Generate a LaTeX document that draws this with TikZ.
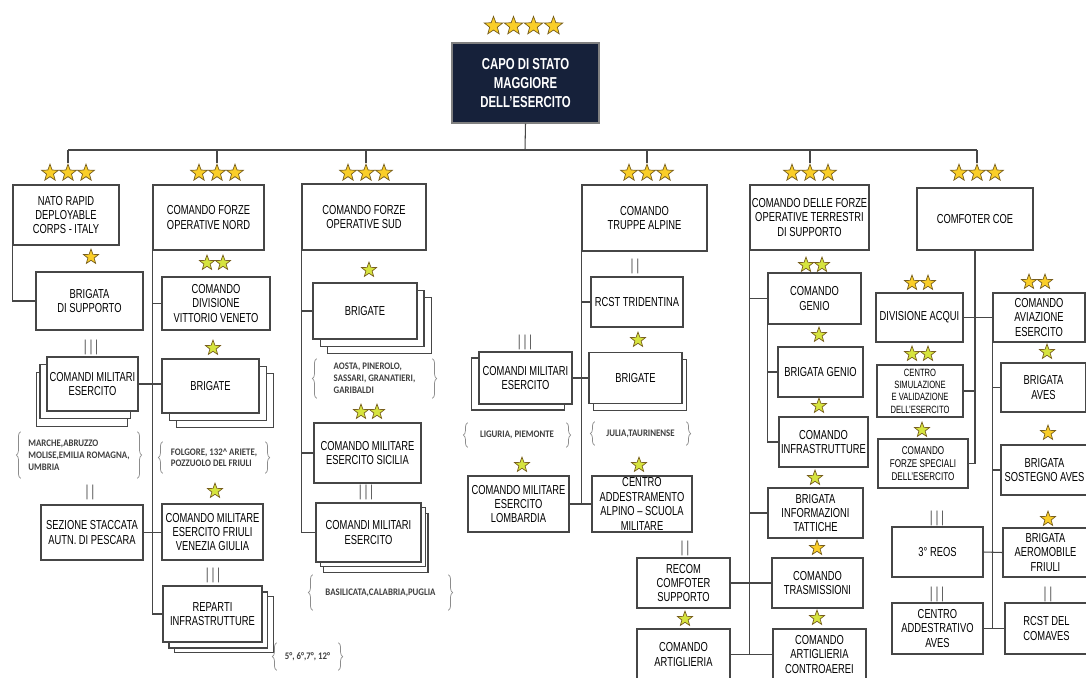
\documentclass[tikz,border=0pt]{standalone}
\usepackage{fontspec}
\setmainfont{Liberation Sans}[FakeStretch=0.72]
\newfontfamily\notefont{Carlito}[FakeStretch=0.88]
\usetikzlibrary{shapes.geometric}
\usetikzlibrary{shadows}
\usetikzlibrary{decorations.pathreplacing}
\definecolor{capoblue}{RGB}{22,33,58}
\definecolor{stargold}{RGB}{250,206,40}
\definecolor{starlime}{RGB}{214,228,62}
\definecolor{starline}{RGB}{120,95,30}
\definecolor{linegray}{RGB}{70,70,70}

\begin{document}
\begin{tikzpicture}[x=0.02cm,y=-0.02cm]
\tikzstyle{unit}=[rectangle,draw=linegray,line width=0.6pt,fill=white,align=center,inner sep=1pt,font=\fontsize{7.4}{8.2}\selectfont]
\tikzstyle{chief}=[unit,fill=capoblue,draw=black!50,text=white,font=\bfseries\fontsize{9}{11}\selectfont]
\tikzstyle{gstar}=[star,star points=5,star point ratio=2.4,minimum size=10pt,inner sep=0pt,draw=starline,line width=0.4pt,fill=stargold]
\tikzstyle{lstar}=[gstar,minimum size=9pt,fill=starlime]
\tikzstyle{sstar}=[gstar,minimum size=9pt]
\tikzstyle{rank}=[text=black!65,inner sep=0pt,font=\fontsize{9}{9}\selectfont]
\tikzstyle{note}=[text=black!75,align=left,inner sep=0pt,font=\notefont\bfseries\fontsize{5.7}{6.7}\selectfont]
\tikzstyle{brc}=[draw=black!45,line width=0.4pt,decorate,decoration={brace,amplitude=2.5pt}]
\tikzstyle{link}=[draw=linegray,line width=0.6pt]
\useasboundingbox[fill=white] (0,0) rectangle (1086,677);

\foreach \i in {0,...,3} \node[gstar,minimum size=11pt] (capostar\i) at ({493.5+20*\i},26) {};
\node[chief,minimum width=2.94cm,minimum height=1.6cm] (capo) at (525.5,83) {CAPO DI STATO\\MAGGIORE\\DELL'ESERCITO};
\coordinate (bus) at (525,150);
\foreach \n/\x in {nato/68,nord/217,sud/366,alp/647,sup/810,coe/977}
  \foreach \i in {-1,0,1} \node[gstar] (\n star\i) at ({\x+18*\i},173) {};
\draw[link] (capo.south) -- (bus);
\draw[link] (natostar0 |- bus) -- (coestar0 |- bus);
\foreach \n in {nato,nord,sud,alp,sup,coe} \draw[link] (\n star0 |- bus) -- (\n star0.north);

\node[unit,minimum width=2.12cm,minimum height=1.2cm] (nato) at (66,215) {NATO RAPID\\DEPLOYABLE\\CORPS - ITALY};
\node[unit,minimum width=2.22cm,minimum height=1.3cm] (nord) at (208.5,217.5) {COMANDO FORZE\\OPERATIVE NORD};
\node[unit,minimum width=2.48cm,minimum height=1.32cm] (sud) at (364,217) {COMANDO FORZE\\OPERATIVE SUD};
\node[unit,minimum width=2.5cm,minimum height=1.32cm] (alp) at (644.5,218) {COMANDO\\TRUPPE ALPINE};
\node[unit,minimum width=2.38cm,minimum height=1.3cm] (sup) at (809.5,217.5) {COMANDO DELLE FORZE\\OPERATIVE TERRESTRI\\DI SUPPORTO};
\node[unit,minimum width=2.32cm,minimum height=1.24cm] (coe) at (975,219) {COMFOTER COE};

\node[sstar] (bsupstar) at (91,257) {};
\node[unit,minimum width=2.14cm,minimum height=1.16cm] (bsup) at (89.5,301) {BRIGATA\\DI SUPPORTO};
\node[rank] (rkcmea) at (91,347) {|\hspace{1.5pt}|\hspace{1.5pt}|};
\node[unit,minimum width=1.82cm,minimum height=1.08cm,copy shadow={shadow xshift=-6.2pt,shadow yshift=-9pt},copy shadow={shadow xshift=-4pt,shadow yshift=-4pt}] (cmea) at (92.5,384) {COMANDI MILITARI\\ESERCITO};
\node[note,minimum width=2.32cm,minimum height=0.92cm] (nmarche) at (79,455) {MARCHE,ABRUZZO\\MOLISE,EMILIA ROMAGNA,\\UMBRIA};
\node[rank] (rksez) at (90,492) {|\hspace{1.5pt}|};
\node[unit,minimum width=2.04cm,minimum height=1.1cm] (sez) at (92,532.5) {SEZIONE STACCATA\\AUTN. DI PESCARA};

\foreach \i in {0,1} \node[lstar] (divstar\i) at ({207+16*\i},263) {};
\node[unit,minimum width=2.16cm,minimum height=1.06cm] (div) at (216,303.5) {COMANDO\\DIVISIONE\\VITTORIO VENETO};
\node[lstar] (brignstar) at (213,348) {};
\node[unit,minimum width=1.94cm,minimum height=1.08cm,copy shadow={shadow xshift=8pt,shadow yshift=-8pt},copy shadow={shadow xshift=4.5pt,shadow yshift=-4.5pt}] (brign) at (210.5,386) {BRIGATE};
\node[note,minimum width=2.04cm,minimum height=0.62cm] (nfolgore) at (214,457.5) {FOLGORE, 132\textasciicircum{} ARIETE,\\POZZUOLO DEL FRIULI};
\node[lstar] (cmfvgstar) at (215,491) {};
\node[unit,minimum width=2.02cm,minimum height=1.12cm] (cmfvg) at (212.5,532) {COMANDO MILITARE\\ESERCITO FRIULI\\VENEZIA GIULIA};
\node[rank] (rkrep) at (213,575) {|\hspace{1.5pt}|\hspace{1.5pt}|};
\node[unit,minimum width=1.98cm,minimum height=1.12cm,copy shadow={shadow xshift=6.8pt,shadow yshift=-6.2pt},copy shadow={shadow xshift=3.4pt,shadow yshift=-3.4pt}] (rep) at (212.5,614) {REPARTI\\INFRASTRUTTURE};
\node[note,minimum width=1.22cm,minimum height=0.54cm] (nrep) at (307.5,656.5) {5°, 6°,7°, 12°};

\node[lstar] (brigsstar) at (369,270) {};
\node[unit,minimum width=2.08cm,minimum height=1.12cm,copy shadow={shadow xshift=8.5pt,shadow yshift=-8.5pt},copy shadow={shadow xshift=4pt,shadow yshift=-4pt}] (brigs) at (365,311) {BRIGATE};
\node[note,minimum width=2.3cm,minimum height=0.78cm] (naosta) at (374.5,378.5) {AOSTA, PINEROLO,\\SASSARI, GRANATIERI,\\GARIBALDI};
\foreach \i in {0,1} \node[lstar] (cmsicstar\i) at ({361+16*\i},412) {};
\node[unit,minimum width=2.14cm,minimum height=1.2cm] (cmsic) at (367.5,453) {COMANDO MILITARE\\ESERCITO SICILIA};
\node[rank] (rkcmes) at (366,492) {|\hspace{1.5pt}|\hspace{1.5pt}|};
\node[unit,minimum width=2.1cm,minimum height=1.18cm,copy shadow={shadow xshift=4pt,shadow yshift=-6.2pt},copy shadow={shadow xshift=2.3pt,shadow yshift=-2.8pt}] (cmes) at (368.5,532.5) {COMANDI MILITARI\\ESERCITO};
\node[note,minimum width=2.7cm,minimum height=0.7cm] (nbasil) at (380.5,592.5) {BASILICATA,CALABRIA,PUGLIA};

\node[rank] (rkrcst) at (635,266) {|\hspace{1.5pt}|};
\node[unit,minimum width=1.84cm,minimum height=1cm] (rcst) at (637,302) {RCST TRIDENTINA};
\node[lstar] (brigastar) at (638,340) {};
\node[unit,minimum width=1.86cm,minimum height=1.02cm,copy shadow={shadow xshift=2.8pt,shadow yshift=-4pt}] (briga) at (635.5,378) {BRIGATE};
\node[note,minimum width=1.82cm,minimum height=0.46cm] (njulia) at (640.5,433.5) {JULIA,TAURINENSE};
\node[lstar] (ceadstar) at (639,465) {};
\node[unit,minimum width=2cm,minimum height=1.12cm,inner ysep=0pt] (cead) at (642,504) {CENTRO\\ADDESTRAMENTO\\ALPINO – SCUOLA\\MILITARE};
\node[rank] (rkcmel) at (525,342) {|\hspace{1.5pt}|\hspace{1.5pt}|};
\node[unit,minimum width=1.86cm,minimum height=1.04cm,copy shadow={shadow xshift=-4.5pt,shadow yshift=-3.4pt}] (cmel) at (525.5,378) {COMANDI MILITARI\\ESERCITO};
\node[note,minimum width=1.96cm,minimum height=0.48cm] (nligur) at (517,435) {LIGURIA, PIEMONTE};
\node[lstar] (lombstar) at (522,465) {};
\node[unit,minimum width=2.02cm,minimum height=1.12cm] (lomb) at (518.5,504) {COMANDO MILITARE\\ESERCITO\\LOMBARDIA};

\foreach \i in {0,1} \node[lstar] (genstar\i) at ({806+16*\i},265) {};
\node[unit,minimum width=1.86cm,minimum height=1.02cm] (gen) at (814.5,298.5) {COMANDO\\GENIO};
\node[lstar] (bgenstar) at (819,335) {};
\node[unit,minimum width=1.7cm,minimum height=1cm] (bgen) at (820.5,372) {BRIGATA GENIO};
\node[lstar] (cinfstar) at (819,406) {};
\node[unit,minimum width=1.78cm,minimum height=1cm] (cinf) at (823.5,442) {COMANDO\\INFRASTRUTTURE};
\node[lstar] (bitstar) at (815,478) {};
\node[unit,minimum width=1.9cm,minimum height=1cm] (bit) at (815.5,513) {BRIGATA\\INFORMAZIONI\\TATTICHE};
\node[sstar] (trasmstar) at (817,548) {};
\node[unit,minimum width=1.82cm,minimum height=1cm] (trasm) at (817.5,583) {COMANDO\\TRASMISSIONI};
\node[lstar] (contrstar) at (817,618) {};
\node[unit,minimum width=1.86cm,minimum height=1.02cm] (contr) at (819.5,654.5) {COMANDO\\ARTIGLIERIA\\CONTROAEREI};
\node[rank] (rkrecom) at (685,548) {|\hspace{1.5pt}|};
\node[unit,minimum width=1.86cm,minimum height=1cm] (recom) at (683.5,583) {RECOM\\COMFOTER\\SUPPORTO};
\node[lstar] (artstar) at (685,619) {};
\node[unit,minimum width=1.86cm,minimum height=1.02cm] (art) at (683.5,654.5) {COMANDO\\ARTIGLIERIA};

\foreach \i in {0,1} \node[sstar] (acquistar\i) at ({912+16*\i},283) {};
\node[unit,minimum width=1.74cm,minimum height=0.98cm] (acqui) at (919.5,317.5) {DIVISIONE ACQUI};
\foreach \i in {0,1} \node[lstar] (csimstar\i) at ({912+16*\i},354) {};
\node[unit,minimum width=1.72cm,minimum height=1.04cm,font=\fontsize{6}{7}\selectfont] (csim) at (920,391) {CENTRO\\SIMULAZIONE\\E VALIDAZIONE\\DELL'ESERCITO};
\node[lstar] (cfsstar) at (922,430) {};
\node[unit,minimum width=1.8cm,minimum height=0.98cm,font=\fontsize{6.4}{7.4}\selectfont] (cfs) at (923,463.5) {COMANDO\\FORZE SPECIALI\\DELL'ESERCITO};
\node[rank] (rkreos) at (937,518) {|\hspace{1.5pt}|\hspace{1.5pt}|};
\node[unit,minimum width=1.82cm,minimum height=1cm] (reos) at (937.5,552) {3° REOS};
\node[rank] (rkcaa) at (937,594) {|\hspace{1.5pt}|\hspace{1.5pt}|};
\node[unit,minimum width=1.82cm,minimum height=1.02cm] (caa) at (937.5,628.5) {CENTRO\\ADDESTRATIVO\\AVES};
\foreach \i in {0,1} \node[sstar] (avistar\i) at ({1029+16*\i},282) {};
\node[unit,minimum width=1.84cm,minimum height=0.98cm] (avi) at (1039,317.5) {COMANDO\\AVIAZIONE\\ESERCITO};
\node[lstar] (bavesstar) at (1047,352) {};
\node[unit,minimum width=1.7cm,minimum height=0.98cm] (baves) at (1043.5,387.5) {BRIGATA\\AVES};
\node[sstar] (bsoststar) at (1048,433) {};
\node[unit,minimum width=1.74cm,minimum height=1cm] (bsost) at (1044.5,470) {BRIGATA\\SOSTEGNO AVES};
\node[sstar] (baerstar) at (1048,519) {};
\node[unit,minimum width=1.7cm,minimum height=0.98cm] (baer) at (1045.5,552.5) {BRIGATA\\AEROMOBILE\\FRIULI};
\node[rank] (rkrcstc) at (1048,594) {|\hspace{1.5pt}|};
\node[unit,minimum width=1.66cm,minimum height=1.02cm] (rcstc) at (1046.5,628.5) {RCST DEL\\COMAVES};

\foreach \n in {nmarche,nfolgore,nrep,naosta,nbasil,njulia,nligur} {
  \draw[brc] (\n.south west) -- (\n.north west);
  \draw[brc] (\n.north east) -- (\n.south east);
}

\draw[link] (nato.south west) |- (bsup.west);
\draw[link] (nord.south west) |- (rep.west);
\draw[link] (nord.south west) |- (div.west);
\draw[link] (cmea.east) -- (cmea.east -| brign.west);
\draw[link] (sez.east) -- (sez.east -| cmfvg.west);
\draw[link] (sud.south west) |- (cmes.west);
\draw[link] (sud.south west) |- (brigs.west);
\draw[link] (sud.south west) |- (cmsic.west);
\draw[link] (alp.south west) |- (cead.west);
\draw[link] (alp.south west) |- (rcst.west);
\draw[link] (cmel.east) -- (cmel.east -| briga.west);
\draw[link] (lomb.east) -- (cead.west);
\draw[link] (sup.south west) |- (contr.west);
\draw[link] (sup.south west) |- (gen.west);
\draw[link] (sup.south west) |- (bit.west);
\draw[link] (gen.south west) |- (cinf.west);
\draw[link] (gen.south west) |- (bgen.west);
\draw[link] (recom.east) -- (trasm.west);
\draw[link] (art.east) -- (contr.west);
\draw[link] (coe.south) |- (cfs.east);
\draw[link] (acqui.east) -- (avi.west);
\draw[link] (csim.east) -- (csim.east -| coe.south);
\draw[link] (avi.south west) -- (avi.south west |- caa.east);
\draw[link] (avi.south west) |- (baves.west);
\draw[link] (avi.south west) |- (bsost.west);
\draw[link] (reos.east) -- (baer.west);
\draw[link] (caa.east) -- (rcstc.west);
\end{tikzpicture}
\end{document}
